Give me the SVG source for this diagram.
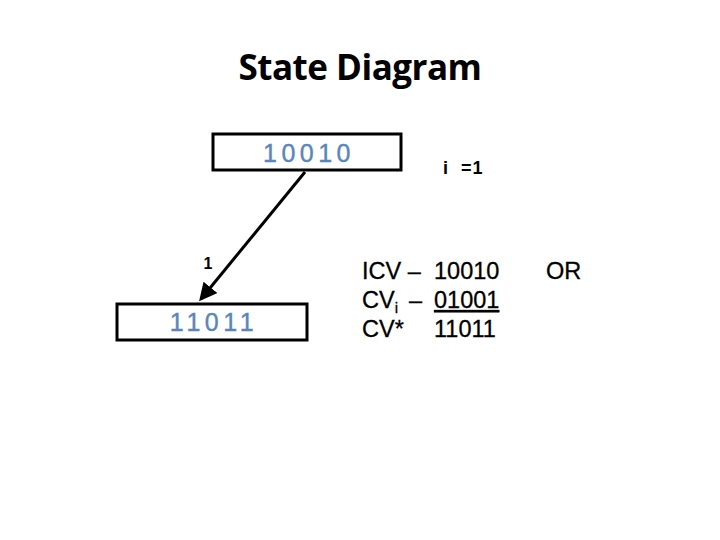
<svg xmlns="http://www.w3.org/2000/svg" width="720" height="540" viewBox="0 0 720 540">
<style>
.box{fill:#fff;stroke:#000;stroke-width:3}
.st{font-family:"Liberation Sans",Arial,sans-serif;font-size:25px;fill:#5B86B8;letter-spacing:4.5px;stroke:#5B86B8;stroke-width:0.4}
.t{font-family:"Liberation Sans",Arial,sans-serif;font-size:23.5px;fill:#000;stroke:#000;stroke-width:0.3}
.lb{font-family:"Liberation Sans",Arial,sans-serif;font-weight:bold}
</style>
<defs>
<marker id="ah" markerWidth="6" markerHeight="6" refX="5" refY="3" orient="auto" markerUnits="strokeWidth">
<path d="M0,0 L6,3 L0,6 z" fill="#000"/>
</marker>
</defs>
<rect width="720" height="540" fill="#fff"/>
<text x="360" y="80" text-anchor="middle" font-family="'Open Sans','Noto Sans',sans-serif" font-weight="bold" font-size="35" letter-spacing="-0.5">State Diagram</text>
<g id="s1">
<rect class="box" x="213" y="134" width="188" height="36"/>
<text class="st" x="309" y="162" text-anchor="middle">10010</text>
</g>
<g id="s2">
<rect class="box" x="117" y="304" width="190" height="36"/>
<text class="st" x="214" y="331" text-anchor="middle">11011</text>
</g>
<g id="connectors">
<line x1="305" y1="172" x2="201" y2="299" stroke="#000" stroke-width="3" marker-end="url(#ah)"/>
<text class="lb" x="208" y="269" text-anchor="middle" font-size="16">1</text>
</g>
<g id="label">
<text class="lb" x="443" y="174" font-size="18">i</text>
<text class="lb" x="461" y="174" font-size="18" letter-spacing="1">=1</text>
</g>
<g id="calc">
<text class="t" x="362" y="279">ICV –</text>
<text class="t" x="434" y="279">10010</text>
<text class="t" x="546" y="279">OR</text>
<text class="t" x="362" y="308">CV<tspan font-size="15" dy="5">i</tspan></text>
<text class="t" x="409" y="308">–</text>
<text class="t" x="434" y="308" text-decoration="underline">01001</text>
<text class="t" x="362" y="337">CV*</text>
<text class="t" x="434" y="337">11011</text>
</g>
</svg>
